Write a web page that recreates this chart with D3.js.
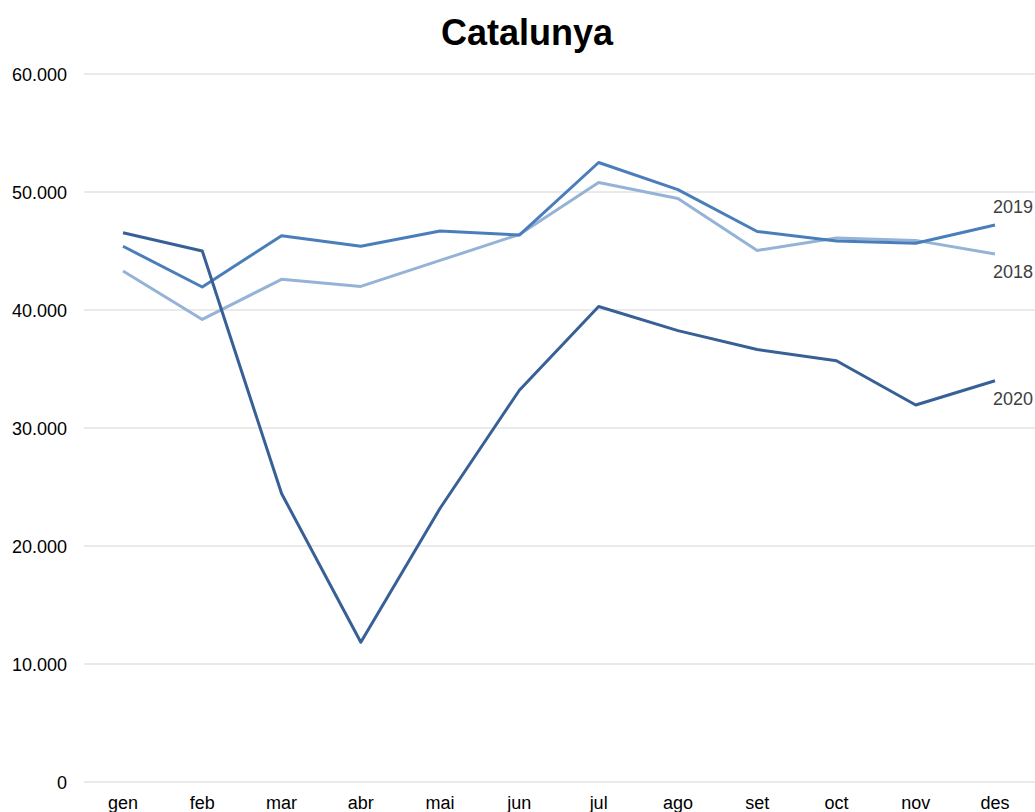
<!DOCTYPE html>
<html>
<head>
<meta charset="utf-8">
<script src="https://cdn.jsdelivr.net/npm/d3@7"></script>
<style>
  body { margin: 0; background: #fff; }
  text { font-family: "Liberation Sans", Arial, sans-serif; }
</style>
</head>
<body>
<div id="chart"></div>
<script>
// months (x categories)
var months = ["gen", "feb", "mar", "abr", "mai", "jun", "jul", "ago", "set", "oct", "nov", "des"];

// series values
var s2018 = [43300, 39200, 42600, 42000, 44200, 46400, 50800, 49450, 45050, 46100, 45900, 44750];
var s2019 = [45400, 41950, 46300, 45400, 46700, 46350, 52500, 50200, 46650, 45850, 45650, 47200];
var s2020 = [46550, 45000, 24450, 11850, 23200, 33200, 40300, 38250, 36650, 35700, 31950, 34000];

var yTicks = [0, 10000, 20000, 30000, 40000, 50000, 60000];

var width = 1035, height = 812;

var svg = d3.select("#chart").append("svg")
    .attr("width", width)
    .attr("height", height);

var x = d3.scalePoint()
    .domain(months)
    .range([123, 995]);

var y = d3.scaleLinear()
    .domain([0, 60000])
    .range([782, 74]);

var fmt = function(v) { return d3.format(",")(v).replace(/,/g, "."); };

// gridlines
svg.append("g")
    .selectAll("line")
    .data(yTicks)
    .enter().append("line")
    .attr("x1", 84)
    .attr("x2", width)
    .attr("y1", function(d) { return y(d); })
    .attr("y2", function(d) { return y(d); })
    .attr("stroke", "#e3e3e3")
    .attr("stroke-width", 1.5);

// y labels
svg.append("g")
    .selectAll("text")
    .data(yTicks)
    .enter().append("text")
    .attr("x", 67)
    .attr("y", function(d) { return y(d) + 6.5; })
    .attr("text-anchor", "end")
    .attr("font-size", "18px")
    .attr("fill", "#000")
    .text(fmt);

// x labels
svg.append("g")
    .selectAll("text")
    .data(months)
    .enter().append("text")
    .attr("x", function(d) { return x(d); })
    .attr("y", 809)
    .attr("text-anchor", "middle")
    .attr("font-size", "18px")
    .attr("fill", "#000")
    .text(function(d) { return d; });

// title
svg.append("text")
    .attr("x", 527)
    .attr("y", 45)
    .attr("text-anchor", "middle")
    .attr("font-size", "36px")
    .attr("font-weight", "bold")
    .attr("fill", "#000")
    .text("Catalunya");

var series = [
    { name: "2018", values: s2018, color: "#95b3d7", dy: 24 },
    { name: "2019", values: s2019, color: "#4a7ebb", dy: -12 },
    { name: "2020", values: s2020, color: "#376096", dy: 24 }
];

var line = d3.line()
    .x(function(d, i) { return x(months[i]); })
    .y(function(d) { return y(d); });

svg.append("g")
    .selectAll("path")
    .data(series)
    .enter().append("path")
    .attr("d", function(d) { return line(d.values); })
    .attr("fill", "none")
    .attr("stroke", function(d) { return d.color; })
    .attr("stroke-width", 3)
    .attr("stroke-linejoin", "round");

// end labels
svg.append("g")
    .selectAll("text")
    .data(series)
    .enter().append("text")
    .attr("x", 1013)
    .attr("y", function(d) { return y(d.values[d.values.length - 1]) + d.dy; })
    .attr("text-anchor", "middle")
    .attr("font-size", "18px")
    .attr("fill", "#404040")
    .text(function(d) { return d.name; });
</script>
</body>
</html>
